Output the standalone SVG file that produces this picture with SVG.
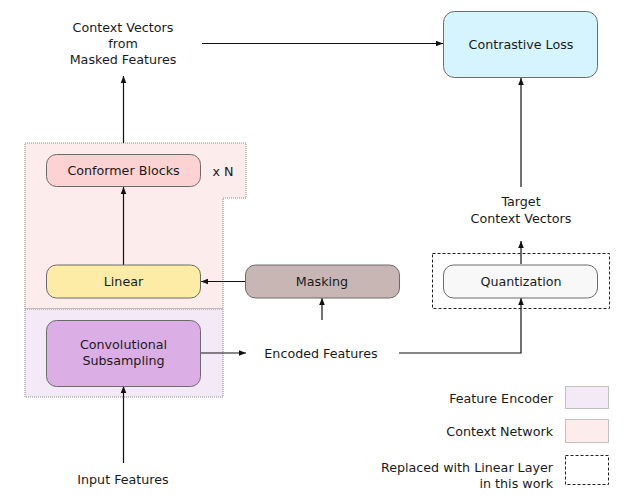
<svg xmlns="http://www.w3.org/2000/svg" width="632" height="500" viewBox="0 0 632 500">
<style>
text{font-family:"DejaVu Sans",Verdana,sans-serif;font-size:12.7px;fill:#1a1a1a;text-anchor:middle}
.r{text-anchor:end}
.box{stroke:#6b6b6b;stroke-width:1}
.region{stroke:#8a8a8a;stroke-width:1;stroke-dasharray:1 1}
.dash{fill:none;stroke:#222;stroke-width:1;stroke-dasharray:3 2}
.conn{fill:none;stroke:#111;stroke-width:1.2}
.arr{marker-end:url(#ah)}
</style>
<defs>
<marker id="ah" viewBox="0 0 10 10" refX="10" refY="5" markerWidth="7" markerHeight="7" markerUnits="userSpaceOnUse" orient="auto">
<path d="M0,1 L10,5 L0,9 Z" fill="#111"/>
</marker>
</defs>
<rect width="632" height="500" fill="#fff"/>
<g id="context-network-region">
<path class="region" d="M25,143 H246 V198 H223 V309 H25 Z" fill="#fdecec"/>
</g>
<g id="feature-encoder-region">
<rect class="region" x="25" y="309" width="198" height="88" fill="#f4e9f7"/>
</g>
<g id="connectors">
<path class="conn arr" d="M202,43.5 H443"/>
<path class="conn arr" d="M123.5,143 V76"/>
<path class="conn arr" d="M123.5,265 V187"/>
<path class="conn arr" d="M245,281.5 H201"/>
<path class="conn arr" d="M322,320 V298"/>
<path class="conn arr" d="M201,353 H246"/>
<path class="conn arr" d="M399,353 H521 V298"/>
<path class="conn arr" d="M521,264 V241"/>
<path class="conn arr" d="M521,187 V78"/>
<path class="conn arr" d="M123.5,463 V386"/>
</g>
<g id="context-vectors">
<text x="123" y="32">Context Vectors</text>
<text x="123" y="48">from</text>
<text x="123" y="64">Masked Features</text>
</g>
<g id="contrastive-loss">
<rect class="box" x="443.5" y="11.5" width="154" height="66" rx="11" fill="#d5f4fd"/>
<text x="521" y="49">Contrastive Loss</text>
</g>
<g id="conformer-blocks">
<rect class="box" x="46.5" y="154.5" width="154" height="32" rx="10" fill="#fdd2d2"/>
<text x="123.5" y="175">Conformer Blocks</text>
<text x="223" y="176">x N</text>
</g>
<g id="linear">
<rect class="box" x="46.5" y="265" width="154" height="33" rx="10" fill="#fdeca6"/>
<text x="123.5" y="286">Linear</text>
</g>
<g id="masking">
<rect class="box" x="245.5" y="265" width="154" height="33" rx="10" fill="#c8b6b5"/>
<text x="322" y="286">Masking</text>
</g>
<g id="conv-subsampling">
<rect class="box" x="46.5" y="320.5" width="154" height="66" rx="10" fill="#dcaee6"/>
<text x="123.5" y="349">Convolutional</text>
<text x="123.5" y="365">Subsampling</text>
</g>
<g id="encoded-features">
<text x="321" y="358">Encoded Features</text>
</g>
<g id="target-context-vectors">
<text x="521" y="206">Target</text>
<text x="521" y="223">Context Vectors</text>
</g>
<g id="quantization">
<rect class="dash" x="432.5" y="253.5" width="177" height="55"/>
<rect class="box" x="443.5" y="265" width="154" height="33" rx="10" fill="#f8f8f8"/>
<text x="521" y="286">Quantization</text>
</g>
<g id="input-features">
<text x="123" y="484">Input Features</text>
</g>
<g id="legend">
<text class="r" x="553" y="403">Feature Encoder</text>
<rect class="region" x="565.5" y="386.5" width="43" height="22" fill="#f4e9f7"/>
<text class="r" x="553" y="436">Context Network</text>
<rect class="region" x="565.5" y="419.5" width="43" height="23" fill="#fdecec"/>
<text class="r" x="553" y="472">Replaced with Linear Layer</text>
<text class="r" x="553" y="488">in this work</text>
<rect class="dash" x="565.5" y="455.5" width="43" height="29"/>
</g>
</svg>
